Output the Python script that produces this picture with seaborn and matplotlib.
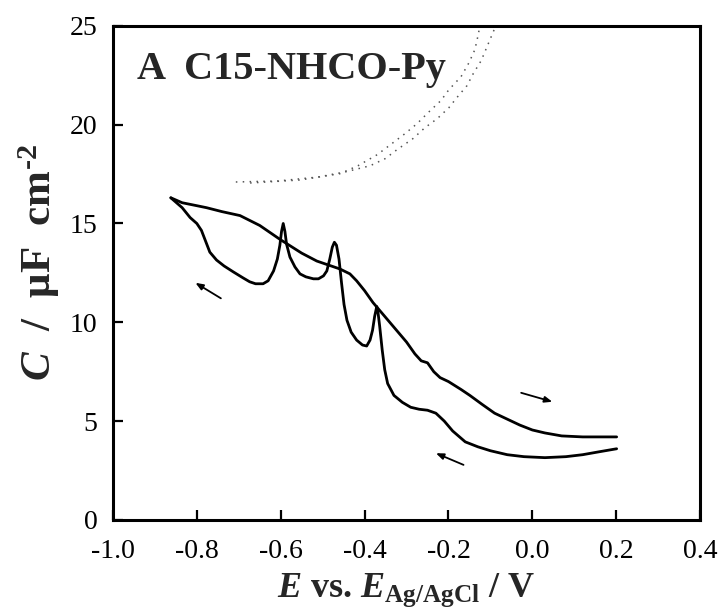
import matplotlib
matplotlib.use("Agg")
import matplotlib.pyplot as plt
import seaborn as sns
import pandas as pd

# ---- data ----
fwd_E = [-0.862, -0.835, -0.80, -0.777, -0.74, -0.697, -0.650, -0.602, -0.55,
         -0.514, -0.459, -0.435, -0.419, -0.40, -0.38, -0.36, -0.34, -0.32,
         -0.30, -0.28, -0.265, -0.25, -0.235, -0.22, -0.20, -0.17, -0.149,
         -0.12, -0.09, -0.06, -0.03, 0.0, 0.03, 0.07, 0.12, 0.16, 0.201]
fwd_C = [16.3, 16.05, 15.9, 15.8, 15.6, 15.4, 14.9, 14.2, 13.5,
         13.1, 12.7, 12.45, 12.1, 11.6, 11.0, 10.5, 10.0, 9.5,
         9.0, 8.4, 8.05, 7.95, 7.5, 7.2, 7.0, 6.6, 6.3,
         5.85, 5.4, 5.1, 4.8, 4.55, 4.4, 4.25, 4.2, 4.2, 4.2]

rev_E = [0.201, 0.16, 0.12, 0.08, 0.03, -0.02, -0.06, -0.10, -0.13, -0.16,
         -0.19, -0.21, -0.23, -0.25, -0.27, -0.29, -0.31, -0.33, -0.345,
         -0.352, -0.358, -0.364, -0.368, -0.371, -0.376, -0.381, -0.387,
         -0.395, -0.405, -0.419, -0.432, -0.442, -0.449, -0.455, -0.461,
         -0.467, -0.472, -0.477, -0.483, -0.490, -0.498, -0.51, -0.522,
         -0.54, -0.554, -0.566, -0.578, -0.586, -0.590, -0.594, -0.598,
         -0.602, -0.608, -0.617, -0.63, -0.642, -0.66, -0.674, -0.69,
         -0.713, -0.735, -0.753, -0.769, -0.779, -0.789, -0.80, -0.816,
         -0.835, -0.862]
rev_C = [3.6, 3.45, 3.3, 3.2, 3.15, 3.2, 3.3, 3.5, 3.7, 3.95,
         4.5, 5.0, 5.4, 5.55, 5.6, 5.7, 5.95, 6.3, 6.9,
         7.6, 8.6, 9.8, 10.5, 10.8, 10.3, 9.6, 9.1,
         8.8, 8.85, 9.1, 9.5, 10.1, 10.9, 12.0, 13.2,
         13.9, 14.05, 13.8, 13.2, 12.6, 12.35, 12.2, 12.2,
         12.3, 12.45, 12.8, 13.3, 13.95, 14.6, 15.0, 14.6,
         13.9, 13.2, 12.6, 12.1, 11.95, 11.95, 12.05, 12.25,
         12.55, 12.85, 13.15, 13.55, 14.1, 14.65, 15.0, 15.3,
         15.8, 16.3]

dotA_E = [-0.707, -0.607, -0.511, -0.444, -0.387, -0.351, -0.323, -0.285, -0.256,
          -0.227, -0.199, -0.180, -0.156, -0.141, -0.122, -0.108, -0.094, -0.087]
dotA_C = [17.1, 17.15, 17.35, 17.62, 17.92, 18.28, 18.73, 19.29, 19.85,
          20.30, 20.86, 21.37, 21.97, 22.58, 23.24, 23.95, 24.66, 25.0]

dotB_E = [-0.673, -0.554, -0.459, -0.416, -0.370, -0.332, -0.304, -0.275, -0.246,
          -0.218, -0.199, -0.170, -0.151, -0.137, -0.130, -0.125]
dotB_C = [17.05, 17.2, 17.52, 17.92, 18.48, 19.09, 19.54, 20.05, 20.66,
          21.22, 21.77, 22.43, 23.14, 23.80, 24.46, 25.0]

x_ticks = [-1.0, -0.8, -0.6, -0.4, -0.2, 0.0, 0.2, 0.4]
x_ticklabels = ["-1.0", "-0.8", "-0.6", "-0.4", "-0.2", "0.0", "0.2", "0.4"]
y_ticks = [0, 5, 10, 15, 20, 25]
y_ticklabels = ["0", "5", "10", "15", "20", "25"]

title_text = "A  C15-NHCO-Py"
xlabel_text = r"$\mathit{E}$ vs. $\mathit{E}_{\mathrm{Ag/AgCl}}$ / V"
ylabel_text = r"$\mathit{C}$  /  μF  cm$^{\mathrm{‐2}}$"

# ---- style ----
sns.set_style("ticks")
plt.rcParams["font.family"] = ["Liberation Serif", "DejaVu Serif"]
plt.rcParams["mathtext.fontset"] = "custom"
plt.rcParams["mathtext.rm"] = "Liberation Serif:bold"
plt.rcParams["mathtext.bf"] = "Liberation Serif:bold"
plt.rcParams["mathtext.it"] = "Liberation Serif:italic:bold"
plt.rcParams["axes.unicode_minus"] = False

fig = plt.figure(figsize=(7.24, 6.16), dpi=100)
ax = fig.add_axes([0.156, 0.156, 0.811, 0.802])

fwd = pd.DataFrame({"E": fwd_E, "C": fwd_C})
rev = pd.DataFrame({"E": rev_E, "C": rev_C})
dA = pd.DataFrame({"E": dotA_E, "C": dotA_C})
dB = pd.DataFrame({"E": dotB_E, "C": dotB_C})

sns.lineplot(data=fwd, x="E", y="C", sort=False, estimator=None, color="black", lw=2.0, ax=ax)
sns.lineplot(data=rev, x="E", y="C", sort=False, estimator=None, color="black", lw=2.0, ax=ax)
sns.lineplot(data=dA, x="E", y="C", sort=False, estimator=None, color="#555555", lw=1.1,
             linestyle=(0, (1.0, 3.5)), ax=ax)
sns.lineplot(data=dB, x="E", y="C", sort=False, estimator=None, color="#555555", lw=1.1,
             linestyle=(0, (1.0, 3.5)), ax=ax)

arrow_kw = dict(arrowstyle="-|>,head_length=0.45,head_width=0.18", color="black", lw=1.3)
ax.annotate("", xy=(-0.809, 12.07), xytext=(-0.737, 11.14), arrowprops=arrow_kw)
ax.annotate("", xy=(0.054, 5.94), xytext=(-0.033, 6.47), arrowprops=arrow_kw)
ax.annotate("", xy=(-0.236, 3.43), xytext=(-0.158, 2.73), arrowprops=arrow_kw)

ax.set_xlim(-1.0, 0.4)
ax.set_ylim(0, 25)
ax.set_xticks(x_ticks)
ax.set_xticklabels(x_ticklabels)
ax.set_yticks(y_ticks)
ax.set_yticklabels(y_ticklabels)
ax.tick_params(direction="in", length=7, width=1.6, labelsize=20,
               top=False, right=False, colors="black")
ax.tick_params(axis="x", pad=14)
ax.tick_params(axis="y", pad=11)
for s in ax.spines.values():
    s.set_linewidth(2.2)
    s.set_color("black")
    s.set_visible(True)

ax.set_xlabel(xlabel_text, fontsize=26, fontweight="bold", labelpad=5)
ax.set_ylabel(ylabel_text, fontsize=31, fontweight="bold")
ax.yaxis.set_label_coords(-0.087, 0.52)

ax.text(0.041, 0.893, title_text, transform=ax.transAxes, fontsize=29,
        fontweight="bold", va="baseline", ha="left")

fig.savefig("out.png", dpi=100, facecolor="white")
